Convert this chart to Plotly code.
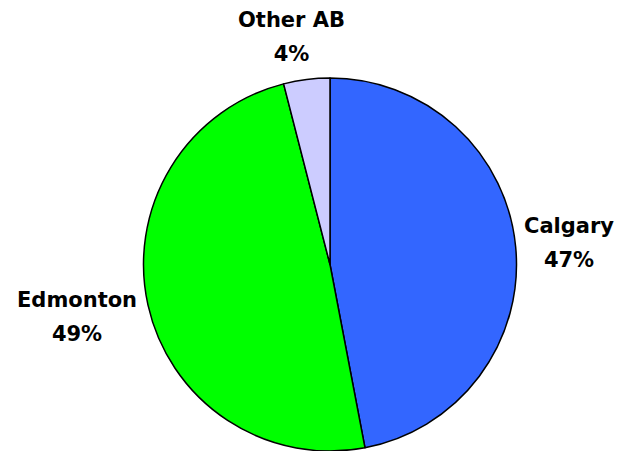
import math
import plotly.graph_objects as go

labels = ["Calgary", "Edmonton", "Other AB"]
values = [47, 49, 4]
colors = ["#3366FF", "#00FF00", "#CCCCFF"]

W, H = 620, 451
cx, cy, r = 330, 264.5, 186.5

fig = go.Figure(go.Pie(
    labels=labels, values=values, sort=False, direction="clockwise", rotation=0,
    marker=dict(colors=colors, line=dict(color="black", width=1.5)),
    textinfo="none", hoverinfo="label+percent", showlegend=False,
    domain=dict(x=[(cx - r) / W, (cx + r) / W], y=[(H - cy - r) / H, (H - cy + r) / H]),
))

total = sum(values)
cum = 0
gap = 6
hh = 33
for lab, v in zip(labels, values):
    mid = (cum + v / 2) / total * 2 * math.pi
    cum += v
    dx, dy = math.sin(mid), -math.cos(mid)
    ax, ay = cx + (r + gap) * dx, cy + (r + gap) * dy
    yc = ay + dy * hh
    if dx > 0.5:
        xanchor, x = "left", ax
    elif dx < -0.5:
        xanchor, x = "right", ax - 3
        yc += 3
    else:
        hw = len(lab) * 7.2
        xanchor, x = "center", ax + dx * hw * 2
        yc -= 4
    pct = f"{round(v / total * 100)}%"
    txt = (f"<span style='font-size:21px'><b>{lab}</b></span><br>"
           f"<span style='font-size:21px'><b>{pct}</b></span>")
    fig.add_annotation(
        x=x / W, y=(H - yc) / H, xref="paper", yref="paper",
        text=txt, showarrow=False, xanchor=xanchor, yanchor="middle", align="center",
        font=dict(family="DejaVu Sans", size=26, color="black"),
    )

fig.update_layout(width=W, height=H, margin=dict(l=0, r=0, t=0, b=0),
                  paper_bgcolor="white", plot_bgcolor="white")
fig.write_html("out.html")
